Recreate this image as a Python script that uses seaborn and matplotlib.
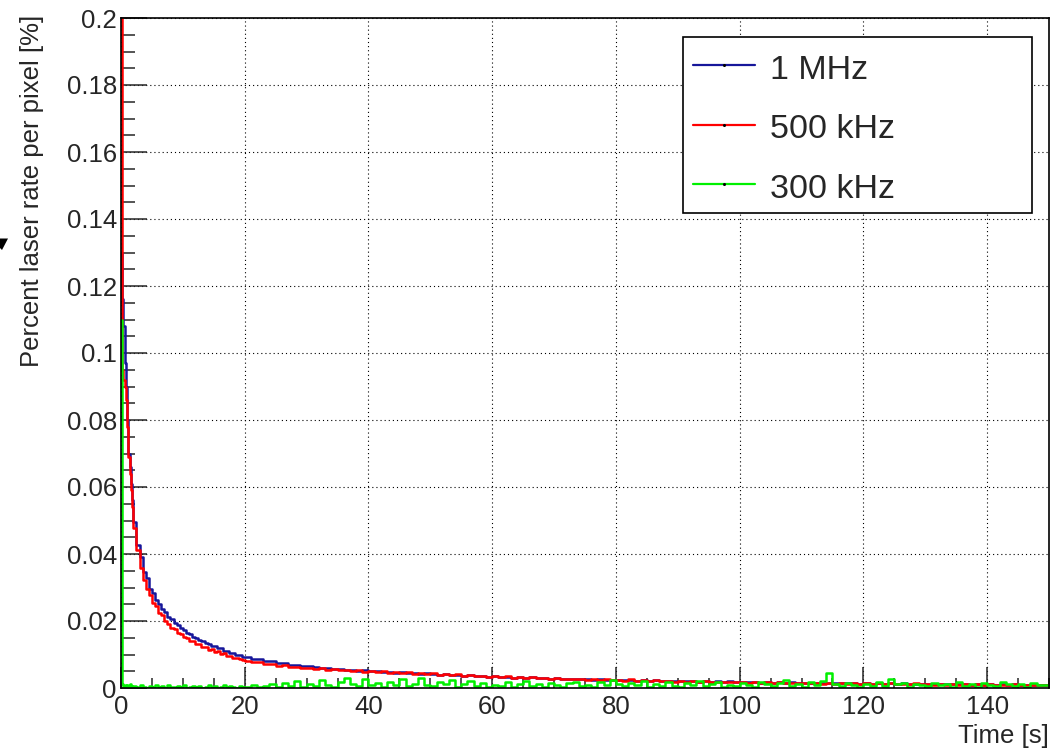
import numpy as np
import pandas as pd
import matplotlib
matplotlib.use("Agg")
import matplotlib.pyplot as plt
import seaborn as sns
from matplotlib.lines import Line2D
from matplotlib.patches import Rectangle, Polygon
from matplotlib.ticker import MultipleLocator, FuncFormatter

# ---------------- data ----------------
# left edges of the time bins [s]
bin_start_s = np.concatenate([np.arange(0, 2, 0.2), np.arange(2, 20, 0.5), np.arange(20, 150, 1.0)])
time_end_s = 150.0

series_labels = ["1 MHz", "500 kHz", "300 kHz"]
series_colors = ["#16169a", "#ff0000", "#00f000"]

# percent laser rate per pixel [%]
rate_1mhz = [
    0.130, 0.116, 0.108, 0.097, 0.090, 0.080, 0.070, 0.066, 0.061, 0.056,
    0.0495, 0.0428, 0.0392, 0.0347, 0.0328, 0.0297, 0.0283, 0.0262, 0.0252, 0.0236,
    0.0227, 0.0211, 0.0205, 0.0193, 0.0189, 0.0178, 0.0174, 0.0164, 0.0161, 0.0153,
    0.0150, 0.0142, 0.0140, 0.0133, 0.0132, 0.0125, 0.0124, 0.0118, 0.0118, 0.0111,
    0.0111, 0.0105, 0.0105, 0.0099, 0.0100, 0.0094,
    0.0094, 0.0088, 0.0087, 0.0081, 0.0082, 0.0076, 0.0075, 0.0070, 0.0069, 0.0065,
    0.0066, 0.0062, 0.0061, 0.0061, 0.0057, 0.0058, 0.0055, 0.0055, 0.0052, 0.0053,
    0.0050, 0.0051, 0.0048, 0.0049, 0.0046, 0.0047, 0.0045, 0.0046, 0.0043, 0.0044,
    0.0042, 0.0040, 0.0041, 0.0039, 0.0040, 0.0037, 0.0038, 0.0035, 0.0036, 0.0034,
    0.0035, 0.0033, 0.0034, 0.0031, 0.0033, 0.0030, 0.0032, 0.0029, 0.0031, 0.0028,
    0.0029, 0.0028, 0.0027, 0.0028, 0.0026, 0.0027, 0.0025, 0.0026, 0.0024, 0.0025,
    0.0025, 0.0023, 0.0024, 0.0022, 0.0024, 0.0021, 0.0023, 0.0021, 0.0022, 0.0020,
    0.0022, 0.0020, 0.0021, 0.0019, 0.0021, 0.0019, 0.0020, 0.0018, 0.0020, 0.0018,
    0.0019, 0.0017, 0.0019, 0.0016, 0.0018, 0.0016, 0.0017, 0.0016, 0.0017, 0.0015,
    0.0016, 0.0015, 0.0016, 0.0014, 0.0016, 0.0014, 0.0015, 0.0014, 0.0015, 0.0013,
    0.0015, 0.0013, 0.0014, 0.0013, 0.0014, 0.0012, 0.0014, 0.0012, 0.0013, 0.0012,
    0.0013, 0.0011, 0.0013, 0.0011, 0.0012, 0.0011, 0.0012, 0.0010, 0.0012, 0.0010,
    0.0012, 0.0010, 0.0011, 0.0009, 0.0011, 0.0009, 0.0010, 0.0009, 0.0010, 0.0009,
]

rate_500khz = [
    0.250, 0.095, 0.092, 0.090, 0.086, 0.078, 0.069, 0.064, 0.059, 0.054,
    0.0478, 0.0412, 0.0358, 0.0322, 0.0297, 0.0278, 0.0255, 0.0246, 0.0225, 0.0218,
    0.0199, 0.0192, 0.0180, 0.0176, 0.0163, 0.0162, 0.0151, 0.0149, 0.0140, 0.0139,
    0.0130, 0.0130, 0.0122, 0.0121, 0.0114, 0.0115, 0.0108, 0.0109, 0.0102, 0.0103,
    0.0097, 0.0096, 0.0091, 0.0090, 0.0086, 0.0084,
    0.0081, 0.0077, 0.0078, 0.0072, 0.0073, 0.0067, 0.0068, 0.0063, 0.0064, 0.0059,
    0.0060, 0.0058, 0.0059, 0.0055, 0.0057, 0.0053, 0.0055, 0.0051, 0.0053, 0.0049,
    0.0051, 0.0047, 0.0050, 0.0046, 0.0048, 0.0044, 0.0047, 0.0043, 0.0046, 0.0042,
    0.0044, 0.0040, 0.0043, 0.0038, 0.0041, 0.0037, 0.0039, 0.0035, 0.0037, 0.0034,
    0.0036, 0.0032, 0.0035, 0.0031, 0.0033, 0.0029, 0.0032, 0.0029, 0.0030, 0.0028,
    0.0030, 0.0027, 0.0028, 0.0026, 0.0028, 0.0025, 0.0027, 0.0024, 0.0026, 0.0023,
    0.0025, 0.0022, 0.0026, 0.0021, 0.0025, 0.0021, 0.0023, 0.0020, 0.0022, 0.0019,
    0.0021, 0.0019, 0.0022, 0.0018, 0.0020, 0.0018, 0.0019, 0.0017, 0.0019, 0.0017,
    0.0018, 0.0016, 0.0019, 0.0016, 0.0017, 0.0015, 0.0018, 0.0015, 0.0016, 0.0014,
    0.0016, 0.0014, 0.0015, 0.0013, 0.0015, 0.0013, 0.0014, 0.0013, 0.0015, 0.0012,
    0.0014, 0.0012, 0.0016, 0.0011, 0.0014, 0.0012, 0.0013, 0.0011, 0.0014, 0.0011,
    0.0012, 0.0010, 0.0013, 0.0010, 0.0012, 0.0010, 0.0011, 0.0009, 0.0011, 0.0009,
    0.0011, 0.0009, 0.0010, 0.0009, 0.0011, 0.0008, 0.0010, 0.0008, 0.0009, 0.0008,
]

rate_300khz = [
    0.110, 0.0012, 0.0004, 0.0010, 0.0003, 0.0008, 0.0002, 0.0011, 0.0005, 0.0003,
    0.0006, 0.0002, 0.0009, 0.0004, 0.0001, 0.0007, 0.0003, 0.0010, 0.0002, 0.0005,
    0.0001, 0.0008, 0.0004, 0.0002, 0.0006, 0.0003, 0.0009, 0.0001, 0.0004, 0.0007,
    0.0002, 0.0005, 0.0001, 0.0003, 0.0008, 0.0002, 0.0006, 0.0001, 0.0004, 0.0009,
    0.0002, 0.0005, 0.0003, 0.0001, 0.0007, 0.0004,
    0.0004, 0.0008, 0.0002, 0.0006, 0.0012, 0.0003, 0.0015, 0.0007, 0.0022, 0.0004,
    0.0011, 0.0006, 0.0025, 0.0009, 0.0003, 0.0018, 0.0030, 0.0012, 0.0005, 0.0027,
    0.0008, 0.0014, 0.0004, 0.0019, 0.0010, 0.0026, 0.0006, 0.0013, 0.0031, 0.0009,
    0.0005, 0.0017, 0.0011, 0.0024, 0.0004, 0.0012, 0.0020, 0.0007, 0.0015, 0.0003,
    0.0010, 0.0006, 0.0018, 0.0004, 0.0013, 0.0021, 0.0005, 0.0011, 0.0003, 0.0016,
    0.0008, 0.0004, 0.0014, 0.0019, 0.0006, 0.0010, 0.0003, 0.0017, 0.0009, 0.0023,
    0.0012, 0.0005, 0.0016, 0.0008, 0.0020, 0.0004, 0.0013, 0.0007, 0.0018, 0.0006,
    0.0003, 0.0015, 0.0009, 0.0022, 0.0005, 0.0012, 0.0017, 0.0004, 0.0010, 0.0006,
    0.0014, 0.0008, 0.0003, 0.0019, 0.0011, 0.0006, 0.0016, 0.0025, 0.0007, 0.0012,
    0.0004, 0.0018, 0.0009, 0.0021, 0.0045, 0.0013, 0.0006, 0.0016, 0.0010, 0.0004,
    0.0012, 0.0007, 0.0019, 0.0005, 0.0027, 0.0011, 0.0015, 0.0004, 0.0013, 0.0008,
    0.0005, 0.0016, 0.0009, 0.0012, 0.0004, 0.0018, 0.0007, 0.0011, 0.0003, 0.0014,
    0.0009, 0.0005, 0.0017, 0.0011, 0.0006, 0.0013, 0.0004, 0.0015, 0.0008, 0.0010,
]

y_ticks = [0, 0.02, 0.04, 0.06, 0.08, 0.1, 0.12, 0.14, 0.16, 0.18, 0.2]
x_ticks = [0, 20, 40, 60, 80, 100, 120, 140]

# ---------------- long table ----------------
frames = []
for lab, vals in zip(series_labels, [rate_1mhz, rate_500khz, rate_300khz]):
    assert len(vals) == len(bin_start_s)
    t = list(bin_start_s) + [time_end_s]
    v = list(vals) + [vals[-1]]
    frames.append(pd.DataFrame({"time": t, "rate": v, "series": lab}))
df = pd.concat(frames, ignore_index=True)

# ---------------- style ----------------
sns.set_style("white")
plt.rcParams["font.family"] = ["Liberation Sans", "DejaVu Sans"]

W, H = 1054, 748
fig = plt.figure(figsize=(W / 100, H / 100), dpi=100)
ax = fig.add_axes([121 / W, 1 - 688 / H, 928 / W, 670 / H])

sns.lineplot(data=df, x="time", y="rate", hue="series", hue_order=series_labels,
             palette=dict(zip(series_labels, series_colors)), estimator=None,
             sort=False, drawstyle="steps-post", linewidth=1.8, legend=False, ax=ax)

ax.set_xlim(0, 150)
ax.set_ylim(0, 0.2)
ax.set_xticks(x_ticks)
ax.set_yticks(y_ticks)
ax.xaxis.set_minor_locator(MultipleLocator(5))
ax.yaxis.set_minor_locator(MultipleLocator(0.005))
ax.yaxis.set_major_formatter(FuncFormatter(lambda v, p: "%g" % round(v, 4)))
ax.xaxis.set_major_formatter(FuncFormatter(lambda v, p: "%g" % v))
ax.set_xlabel("")
ax.set_ylabel("")

ax.grid(True, which="major", color="black", linewidth=0.8, linestyle=(0, (1, 2.7)))
for s in ax.spines.values():
    s.set_visible(True)
    s.set_color("black")
    s.set_linewidth(1.2)

ax.tick_params(axis="x", which="major", direction="in", length=15, width=1.1,
               labelsize=18.5, pad=5, top=False, bottom=True)
ax.tick_params(axis="x", which="minor", direction="in", length=7.2, width=1.1,
               top=False, bottom=True)
ax.tick_params(axis="y", which="major", direction="in", length=18.7, width=1.1,
               labelsize=18.5, pad=3, left=True, right=False)
ax.tick_params(axis="y", which="minor", direction="in", length=10, width=1.1,
               left=True, right=False)

# axis titles (ROOT style: aligned to the axis ends)
fig.text(32 / W, 1 - 15 / H, "Percent laser rate per pixel [%]", rotation=90,
         ha="center", va="top", fontsize=18.5)
fig.text(1049 / W, 1 - 743 / H, "Time [s]", ha="right", va="baseline", fontsize=18.5)

# legend box (ROOT TLegend)
fig.add_artist(Rectangle((683 / W, 1 - 213 / H), 349 / W, 176 / H, transform=fig.transFigure,
                         facecolor="white", edgecolor="black", linewidth=1.2, zorder=5))
row_line_y = [65, 124.5, 184]
row_base_y = [79, 138.5, 197.5]
for lab, col, ly, by in zip(series_labels, series_colors, row_line_y, row_base_y):
    fig.add_artist(Line2D([693 / W, 755 / W], [1 - ly / H] * 2, transform=fig.transFigure,
                          color=col, linewidth=1.6, zorder=6))
    fig.add_artist(Line2D([724 / W], [1 - ly / H], transform=fig.transFigure, marker="o",
                          markersize=1.2, color="black", linestyle="none", zorder=7))
    fig.text(770 / W, 1 - by / H, lab, ha="left", va="baseline", fontsize=24.5, zorder=7)

# small dark mark at the left edge of the original image
fig.add_artist(Polygon([(0, 1 - 238.5 / H), (8 / W, 1 - 238.5 / H), (2 / W, 1 - 250 / H),
                        (0, 1 - 248 / H)], closed=True, transform=fig.transFigure,
                       facecolor="black", edgecolor="none"))

fig.savefig("out.png", dpi=100)
